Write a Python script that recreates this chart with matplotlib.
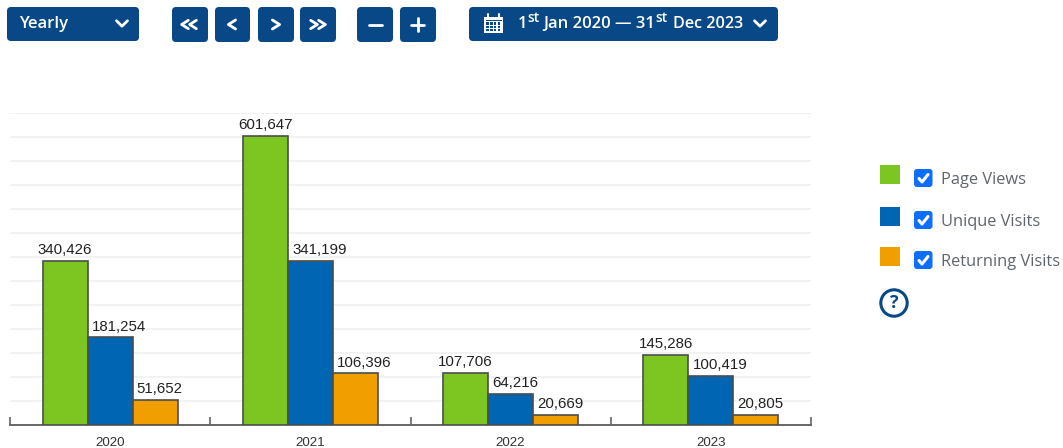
"""Yearly visits bar chart with the site's control bar and legend around it."""
import matplotlib

matplotlib.use("Agg")
import matplotlib.pyplot as plt
from matplotlib.patches import Circle, FancyBboxPatch, Rectangle

YEARS = ["2020", "2021", "2022", "2023"]
PAGE_VIEWS = [340426, 601647, 107706, 145286]
UNIQUE_VISITS = [181254, 341199, 64216, 100419]
RETURNING_VISITS = [51652, 106396, 20669, 20805]
SERIES_NAMES = ["Page Views", "Unique Visits", "Returning Visits"]

GREEN = "#7dc622"
BLUE = "#0066b3"
ORANGE = "#f09e00"
NAVY = "#084887"
CHECK_BLUE = "#0d6efd"
UI_FONT = "Open Sans"
NUM_FONT = "Liberation Sans"

W, H = 1063, 448
BAR_W = 0.225


def rounded(ui, x0, y0, x1, y1, color, rad=4):
    ui.add_patch(FancyBboxPatch((x0 + rad, y0 + rad), x1 - x0 - 2 * rad, y1 - y0 - 2 * rad,
                                boxstyle=f"round,pad={rad},rounding_size={rad}",
                                fc=color, ec="none"))


def stroke(ui, xs, ys, lw=2.0, color="white"):
    ui.plot(xs, ys, color=color, lw=lw, solid_capstyle="round", solid_joinstyle="round")


def chevron(ui, cx, cy, direction, size=4.5):
    # direction: -1 left, 1 right, 0 down
    if direction == 0:
        stroke(ui, [cx - size - 1, cx, cx + size + 1], [cy - size * 0.6, cy + size * 0.6, cy - size * 0.6])
    else:
        d = direction * size * 0.8
        stroke(ui, [cx - d, cx + d, cx - d], [cy - size, cy, cy + size])


fig = plt.figure(figsize=(W / 100, H / 100), dpi=100)

# chart area: 10..811 px wide, baseline at 424.5 px, top grid line at 112.5 px
ax = fig.add_axes([10 / W, 1 - 424.5 / H, 801 / W, 312 / H])
ax.set_xlim(-0.5, 3.5)
ax.set_ylim(0, 650000)
ax.patch.set_alpha(0)
for side in ["top", "right", "left"]:
    ax.spines[side].set_visible(False)
ax.spines["bottom"].set_color("#666666")
ax.spines["bottom"].set_linewidth(1.4)

ax.set_yticks(range(50000, 650001, 50000))
ax.tick_params(axis="y", length=0, labelleft=False)
ax.grid(axis="y", color="#f1f1f1", linewidth=1.3)
ax.set_axisbelow(True)

ax.set_xticks(range(len(YEARS)))
ax.set_xticklabels(YEARS, fontsize=9.6, family=NUM_FONT, color="#333333")
ax.tick_params(axis="x", which="major", length=0, pad=9)
ax.set_xticks([i - 0.5 for i in range(len(YEARS) + 1)], minor=True)
ax.tick_params(axis="x", which="minor", direction="in", length=5.5, width=1.2, color="#666666")

for j, (values, color) in enumerate(zip([PAGE_VIEWS, UNIQUE_VISITS, RETURNING_VISITS], [GREEN, BLUE, ORANGE])):
    xs = [i + (j - 1) * BAR_W for i in range(len(YEARS))]
    ax.bar(xs, values, width=BAR_W, color=color, edgecolor="#4d4d4d", linewidth=1.2, zorder=3)
    for x, v in zip(xs, values):
        # green labels sit centred, the other two start just inside the bar's left edge
        if j == 0:
            ax.annotate(f"{v:,}", (x, v), xytext=(0, 2.8), textcoords="offset points",
                        ha="center", va="bottom", fontsize=10.8, family=NUM_FONT, color="#222222", zorder=4)
        else:
            ax.annotate(f"{v:,}", (x - BAR_W / 2, v), xytext=(3.0, 2.8), textcoords="offset points",
                        ha="left", va="bottom", fontsize=10.8, family=NUM_FONT, color="#222222", zorder=4)

# overlay in pixel coordinates for the page controls and legend
ui = fig.add_axes([0, 0, 1, 1])
ui.set_xlim(0, W)
ui.set_ylim(H, 0)
ui.axis("off")
ui.patch.set_alpha(0)

# period dropdown
rounded(ui, 7, 7, 139, 41, NAVY)
ui.text(19, 23.5, "Yearly", color="white", fontsize=12, family=UI_FONT, weight="semibold", va="center")
chevron(ui, 122, 23.5, 0)

# navigation buttons
for x0, x1 in [(172, 208), (215, 250), (258, 294), (300, 336), (357, 393), (400, 436)]:
    rounded(ui, x0, 7, x1, 42, NAVY)
chevron(ui, 185, 24.5, -1, size=4.2)
chevron(ui, 193, 24.5, -1, size=4.2)
chevron(ui, 232, 24.5, -1)
chevron(ui, 276, 24.5, 1)
chevron(ui, 314, 24.5, 1, size=4.2)
chevron(ui, 322, 24.5, 1, size=4.2)
stroke(ui, [368.5, 381.5], [25, 25])
stroke(ui, [411, 424], [25, 25])
stroke(ui, [417.5, 417.5], [18.5, 31.5])

# date range button
rounded(ui, 469, 7, 778, 41, NAVY)
ui.add_patch(Rectangle((484, 17), 19, 16, fc="white", ec="none"))
for px in [488, 499]:
    stroke(ui, [px, px], [14, 18], lw=1.5)
ui.add_patch(Rectangle((485.5, 20), 16, 1.2, fc=NAVY, ec="none"))
for row in range(3):
    for col in range(4):
        ui.add_patch(Rectangle((486 + col * 3.9, 22.5 + row * 3.3), 2.6, 2.2, fc=NAVY, ec="none"))
for x, y, s, size in [(518, 24, "1", 12), (527.5, 18.5, "st", 10), (543, 24, "Jan 2020 — 31", 12),
                      (655, 18.5, "st", 10), (673, 24, "Dec 2023", 11.6)]:
    ui.text(x, y, s, color="white", fontsize=size, family=UI_FONT, weight="semibold", va="center")
chevron(ui, 760, 23.5, 0)

# legend
for y0, color, name in zip([165, 207, 247], [GREEN, BLUE, ORANGE], SERIES_NAMES):
    ui.add_patch(Rectangle((880, y0), 19.5, 19.5, fc=color, ec="none"))
    rounded(ui, 914, y0 + 4, 932.5, y0 + 22, CHECK_BLUE, rad=3)
    stroke(ui, [919, 922, 928], [y0 + 13.5, y0 + 17, y0 + 9.5], lw=2.2)
    ui.text(941, y0 + 15, name, color="#5f656c", fontsize=11.8, family=UI_FONT, va="center")

# help icon
ui.add_patch(Circle((894, 303), 13.2, fc="white", ec=NAVY, lw=2.2))
ui.text(894, 303.5, "?", color=NAVY, fontsize=13, family=UI_FONT, weight="bold", ha="center", va="center")

fig.savefig("out.png", dpi=100, facecolor="white")
plt.close(fig)
